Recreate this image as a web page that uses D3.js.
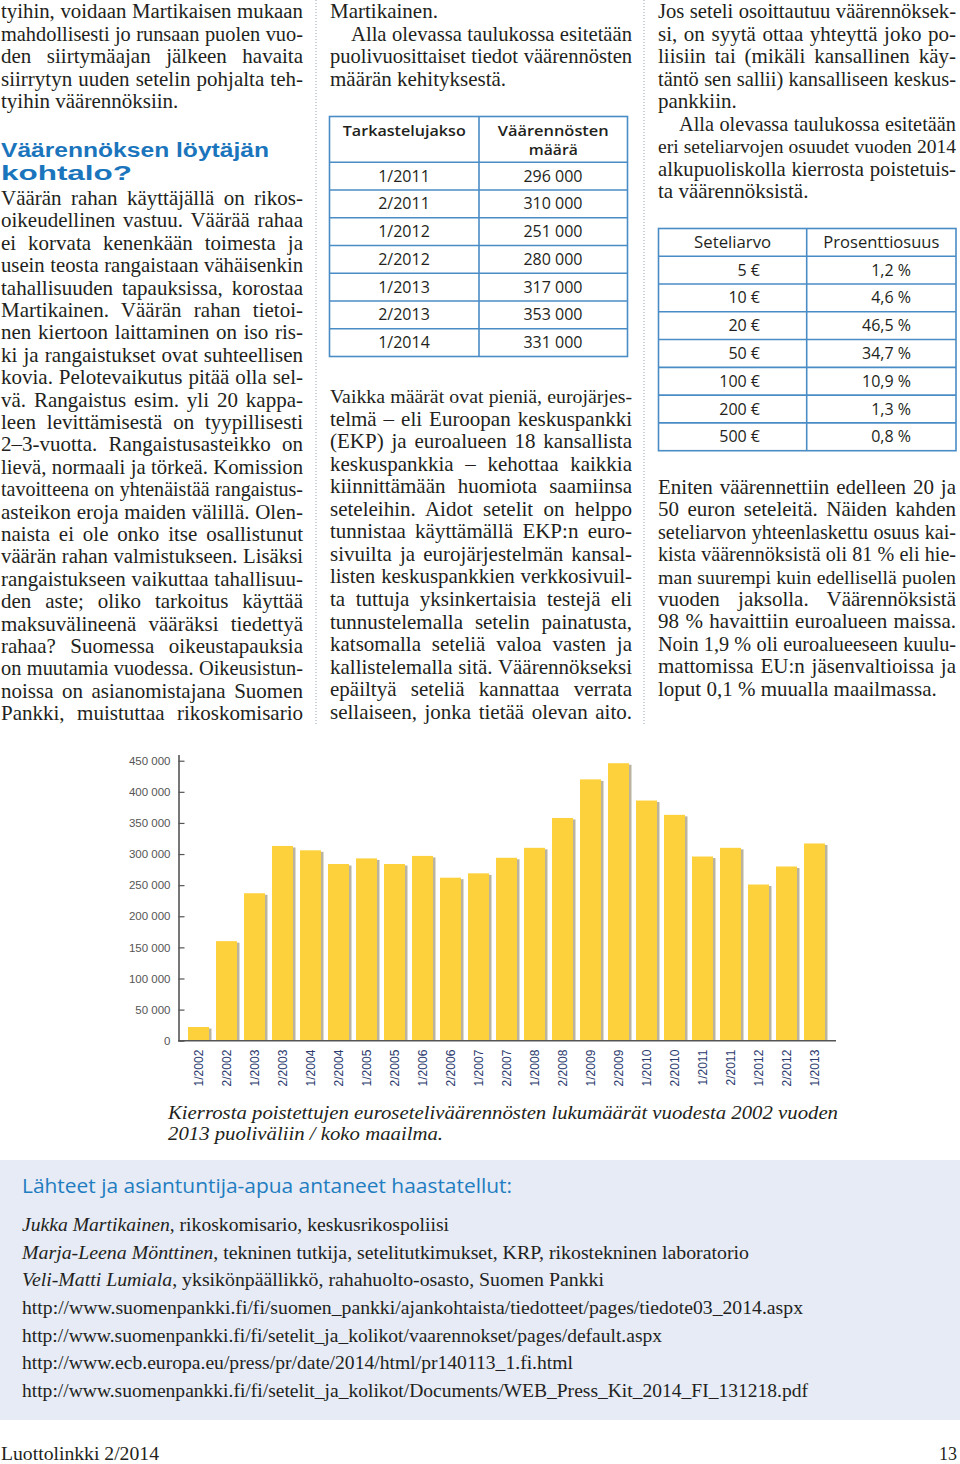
<!DOCTYPE html>
<html><head><meta charset="utf-8">
<script src="https://cdn.jsdelivr.net/npm/d3@7"></script>
<style>
html,body{margin:0;padding:0;background:#fff;}
svg{display:block;}
</style></head><body>
<svg id="page" width="960" height="1464"></svg>
<script>
// ---------- DATA ----------
const periods = ["1/2002","2/2002","1/2003","2/2003","1/2004","2/2004","1/2005","2/2005","1/2006","2/2006","1/2007","2/2007","1/2008","2/2008","1/2009","2/2009","1/2010","2/2010","1/2011","2/2011","1/2012","2/2012","1/2013"];
const counts = [22000,160000,237000,313000,306000,284000,293000,284000,297000,262000,269000,294000,310000,358000,420000,446000,386000,363000,296000,310000,251000,280000,317000];
const yTicks = [0,50000,100000,150000,200000,250000,300000,350000,400000,450000];

const tablePeriods = ["1/2011","2/2011","1/2012","2/2012","1/2013","2/2013","1/2014"];
const tableCounts = ["296 000","310 000","251 000","280 000","317 000","353 000","331 000"];
const denominations = ["5 €","10 €","20 €","50 €","100 €","200 €","500 €"];
const shares = ["1,2 %","4,6 %","46,5 %","34,7 %","10,9 %","1,3 %","0,8 %"];

const captionLines = ["Kierrosta poistettujen euroseteliväärennösten lukumäärät vuodesta 2002 vuoden","2013 puoliväliin / koko maailma."];

// ---------- HELPERS ----------
const svg = d3.select("#page");
const serif = "'Liberation Serif','Times New Roman',serif";
const sans = "'Open Sans','Noto Sans',sans-serif";
const lsans = "'Liberation Sans',Arial,sans-serif";
const ink = "#231f20";
const blue = "#1b75bc";
const BODY = 21;

function line(parent, x, y, str, o = {}) {
  const size = o.size || BODY;
  const t = parent.append("text").attr("x", x).attr("y", y).text(str)
    .attr("font-family", o.family || serif)
    .attr("font-size", size)
    .attr("fill", o.fill || ink);
  if (o.style) t.attr("font-style", o.style);
  if (o.weight) t.attr("font-weight", o.weight);
  if (o.anchor) t.attr("text-anchor", o.anchor);
  if (o.justify) {
    let nat = t.node().getComputedTextLength();
    if (nat > o.justify) {
      t.attr("font-size", size * o.justify / nat * 0.997);
      nat = t.node().getComputedTextLength();
    }
    const spaces = (str.match(/ /g) || []).length;
    if (spaces > 0) {
      t.style("word-spacing", ((o.justify - nat) / spaces) + "px");
      const after = t.node().getComputedTextLength();
      if (Math.abs(after - o.justify) > 2) {
        t.style("word-spacing", null).attr("textLength", o.justify).attr("lengthAdjust", "spacing");
      }
    }
  }
  if (o.fit) t.attr("textLength", o.fit).attr("lengthAdjust", "spacingAndGlyphs");
  return t;
}

function paragraph(col, y0, pitch, lines) {
  const g = svg.append("g");
  lines.forEach((l, i) => {
    const indent = l[2] || 0;
    line(g, col.x + indent, y0 + i * pitch, l[0], l[1] ? { justify: col.w - indent } : {});
  });
}

const colL = { x: 1, w: 302 }, colM = { x: 330, w: 302 }, colR = { x: 658, w: 298 };

// ---------- COLUMN SEPARATORS ----------
[316, 644].forEach(xx => {
  svg.append("line").attr("x1", xx).attr("x2", xx).attr("y1", 0).attr("y2", 726)
    .attr("stroke", "#9aa3b5").attr("stroke-width", 1).attr("stroke-dasharray", "1,2");
});

// ---------- LEFT COLUMN ----------
paragraph(colL, 18, 22.5, [
  ["tyihin, voidaan Martikaisen mukaan", true],
  ["mahdollisesti jo runsaan puolen vuo-", true],
  ["den siirtymäajan jälkeen havaita", true],
  ["siirrytyn uuden setelin pohjalta teh-", true],
  ["tyihin väärennöksiin.", false]
]);
line(svg, 1, 157, "Väärennöksen löytäjän", { family: lsans, weight: 700, size: 20, fill: blue, fit: 268 });
line(svg, 1, 180, "kohtalo?", { family: lsans, weight: 700, size: 20, fill: blue, fit: 131 });
paragraph(colL, 205, 22.4, [
  ["Väärän rahan käyttäjällä on rikos-", true],
  ["oikeudellinen vastuu. Väärää rahaa", true],
  ["ei korvata kenenkään toimesta ja", true],
  ["usein teosta rangaistaan vähäisenkin", true],
  ["tahallisuuden tapauksissa, korostaa", true],
  ["Martikainen. Väärän rahan tietoi-", true],
  ["nen kiertoon laittaminen on iso ris-", true],
  ["ki ja rangaistukset ovat suhteellisen", true],
  ["kovia. Pelotevaikutus pitää olla sel-", true],
  ["vä. Rangaistus esim. yli 20 kappa-", true],
  ["leen levittämisestä on tyypillisesti", true],
  ["2–3-vuotta. Rangaistusasteikko on", true],
  ["lievä, normaali ja törkeä. Komission", true],
  ["tavoitteena on yhtenäistää rangaistus-", true],
  ["asteikon eroja maiden välillä. Olen-", true],
  ["naista ei ole onko itse osallistunut", true],
  ["väärän rahan valmistukseen. Lisäksi", true],
  ["rangaistukseen vaikuttaa tahallisuu-", true],
  ["den aste; oliko tarkoitus käyttää", true],
  ["maksuvälineenä vääräksi tiedettyä", true],
  ["rahaa? Suomessa oikeustapauksia", true],
  ["on muutamia vuodessa. Oikeusistun-", true],
  ["noissa on asianomistajana Suomen", true],
  ["Pankki, muistuttaa rikoskomisario", true]
]);

// ---------- MIDDLE COLUMN ----------
paragraph(colM, 18, 22.5, [
  ["Martikainen.", false],
  ["Alla olevassa taulukossa esitetään", true, 21],
  ["puolivuosittaiset tiedot väärennösten", true],
  ["määrän kehityksestä.", false]
]);
paragraph(colM, 403, 22.55, [
  ["Vaikka määrät ovat pieniä, eurojärjes-", true],
  ["telmä – eli Euroopan keskuspankki", true],
  ["(EKP) ja euroalueen 18 kansallista", true],
  ["keskuspankkia – kehottaa kaikkia", true],
  ["kiinnittämään huomiota saamiinsa", true],
  ["seteleihin. Aidot setelit on helppo", true],
  ["tunnistaa käyttämällä EKP:n euro-", true],
  ["sivuilta ja eurojärjestelmän kansal-", true],
  ["listen keskuspankkien verkkosivuil-", true],
  ["ta tuttuja yksinkertaisia testejä eli", true],
  ["tunnustelemalla setelin painatusta,", true],
  ["katsomalla seteliä valoa vasten ja", true],
  ["kallistelemalla sitä. Väärennökseksi", true],
  ["epäiltyä seteliä kannattaa verrata", true],
  ["sellaiseen, jonka tietää olevan aito.", true]
]);

// ---------- RIGHT COLUMN ----------
paragraph(colR, 18, 22.5, [
  ["Jos seteli osoittautuu väärennöksek-", true],
  ["si, on syytä ottaa yhteyttä joko po-", true],
  ["liisiin tai (mikäli kansallinen käy-", true],
  ["täntö sen sallii) kansalliseen keskus-", true],
  ["pankkiin.", false],
  ["Alla olevassa taulukossa esitetään", true, 21],
  ["eri seteliarvojen osuudet vuoden 2014", true],
  ["alkupuoliskolla kierrosta poistetuis-", true],
  ["ta väärennöksistä.", false]
]);
paragraph(colR, 494, 22.4, [
  ["Eniten väärennettiin edelleen 20 ja", true],
  ["50 euron seteleitä. Näiden kahden", true],
  ["seteliarvon yhteenlaskettu osuus kai-", true],
  ["kista väärennöksistä oli 81 % eli hie-", true],
  ["man suurempi kuin edellisellä puolen", true],
  ["vuoden jaksolla. Väärennöksistä", true],
  ["98 % havaittiin euroalueen maissa.", true],
  ["Noin 1,9 % oli euroalueeseen kuulu-", true],
  ["mattomissa EU:n jäsenvaltioissa ja", true],
  ["loput 0,1 % muualla maailmassa.", false]
]);

// ---------- TABLES ----------
const tableStroke = "#4a8cc6";
function drawTable(o) {
  const g = svg.append("g");
  const rows = d3.scaleBand().domain(o.col1).range([o.headBottom, o.bottom]);
  [[o.header1, (o.left + o.div) / 2], [o.header2, (o.div + o.right) / 2]].forEach(([hs, cx]) => {
    hs.forEach((h, i) => line(g, cx, o.headY + i * 19, h[0],
      { family: sans, size: o.headSize, weight: o.headWeight, anchor: "middle", fit: h[1] }));
  });
  o.col1.forEach((v, i) => {
    const cy = rows(v) + rows.bandwidth() / 2 + 5.5;
    line(g, o.c1x, cy, v, { family: sans, size: 16, anchor: o.c1anchor });
    line(g, o.c2x, cy, o.col2[i], { family: sans, size: 16, anchor: o.c2anchor });
  });
  g.append("rect").attr("x", o.left).attr("y", o.top).attr("width", o.right - o.left).attr("height", o.bottom - o.top)
    .attr("fill", "none").attr("stroke", tableStroke).attr("stroke-width", 1.6);
  g.append("line").attr("x1", o.div).attr("x2", o.div).attr("y1", o.top).attr("y2", o.bottom).attr("stroke", tableStroke).attr("stroke-width", 1.6);
  g.append("line").attr("x1", o.left).attr("x2", o.right).attr("y1", o.headBottom).attr("y2", o.headBottom).attr("stroke", tableStroke).attr("stroke-width", 1.6);
  o.col1.slice(1).forEach(v => {
    g.append("line").attr("x1", o.left).attr("x2", o.right).attr("y1", rows(v)).attr("y2", rows(v)).attr("stroke", tableStroke).attr("stroke-width", 1.6);
  });
}
drawTable({
  left: 329.5, right: 627.5, div: 479, top: 116.5, headBottom: 162.3, bottom: 356.5,
  header1: [["Tarkastelujakso", 123]], header2: [["Väärennösten", 111], ["määrä", 49]],
  headY: 136, headWeight: 600, headSize: 13.8,
  col1: tablePeriods, col2: tableCounts, c1x: 404, c2x: 553, c1anchor: "middle", c2anchor: "middle"
});
drawTable({
  left: 658.5, right: 956, div: 806.7, top: 228.5, headBottom: 256.2, bottom: 450.7,
  header1: [["Seteliarvo", 77]], header2: [["Prosenttiosuus", 116]],
  headY: 248, headWeight: 400, headSize: 16,
  col1: denominations, col2: shares, c1x: 760, c2x: 911, c1anchor: "end", c2anchor: "end"
});

// ---------- BAR CHART ----------
const locale = d3.formatLocale({ decimal: ",", thousands: " ", grouping: [3], currency: ["", " €"] });
const fmt = locale.format(",d");
const x = d3.scaleBand().domain(periods).range([184.5, 828.5]).paddingInner(0.25).paddingOuter(0.125);
const y = d3.scaleLinear().domain([0, 460000]).range([1040.7, 754.5]);
const chart = svg.append("g");

chart.selectAll("rect.shadow").data(periods).join("rect").attr("class", "shadow")
  .attr("x", d => x(d) + 2.5).attr("y", (d, i) => y(counts[i]) + 1.5)
  .attr("width", x.bandwidth()).attr("height", (d, i) => y(0) - y(counts[i]) - 1.5)
  .attr("fill", "#b9b3a0");
chart.selectAll("rect.bar").data(periods).join("rect").attr("class", "bar")
  .attr("x", d => x(d)).attr("y", (d, i) => y(counts[i]))
  .attr("width", x.bandwidth()).attr("height", (d, i) => y(0) - y(counts[i]))
  .attr("fill", "#fcd13b");

const yAxis = chart.append("g").attr("transform", "translate(178.5,0)")
  .call(d3.axisLeft(y).tickValues(yTicks).tickFormat(fmt).tickSize(-6).tickSizeOuter(0).tickPadding(8));
yAxis.select(".domain").attr("stroke", "#555").attr("stroke-width", 1.6);
yAxis.selectAll(".tick line").attr("stroke", "#555").attr("stroke-width", 1.2);
yAxis.selectAll(".tick text").attr("font-family", lsans).attr("font-size", 11.5).attr("fill", "#555");

chart.append("line").attr("x1", 178).attr("x2", 836).attr("y1", y(0)).attr("y2", y(0))
  .attr("stroke", "#555").attr("stroke-width", 1.6);

const xAxis = chart.append("g").attr("transform", `translate(0,${y(0)})`)
  .call(d3.axisBottom(x).tickSize(0).tickPadding(0));
xAxis.select(".domain").remove();
xAxis.selectAll(".tick text")
  .attr("transform", "translate(0,9) rotate(-90)")
  .attr("text-anchor", "end").attr("x", 0).attr("y", 0).attr("dy", "0.35em")
  .attr("font-family", lsans).attr("font-size", 12).attr("fill", "#2b3a6e");

// caption
line(svg, 168, 1119, captionLines[0], { style: "italic", size: 19, fit: 670 });
line(svg, 168, 1140, captionLines[1], { style: "italic", size: 19, fit: 275 });

// ---------- SOURCES BOX ----------
svg.append("rect").attr("x", 0).attr("y", 1160).attr("width", 960).attr("height", 260).attr("fill", "#e6ebf6");
line(svg, 22, 1193, "Lähteet ja asiantuntija-apua antaneet haastatellut:", { family: sans, size: 20, fill: "#1f7dc0", fit: 490 });
const people = [
  ["Jukka Martikainen", ", rikoskomisario, keskusrikospoliisi", 427],
  ["Marja-Leena Mönttinen", ", tekninen tutkija, setelitutkimukset, KRP, rikostekninen laboratorio", 727],
  ["Veli-Matti Lumiala", ", yksikönpäällikkö, rahahuolto-osasto, Suomen Pankki", 582]
];
people.forEach((p, i) => {
  const t = svg.append("text").attr("x", 22).attr("y", 1231 + i * 27.7)
    .attr("font-family", serif).attr("font-size", 18).attr("fill", ink)
    .attr("textLength", p[2]).attr("lengthAdjust", "spacingAndGlyphs");
  t.append("tspan").attr("font-style", "italic").text(p[0]);
  t.append("tspan").text(p[1]);
});
const urls = [
  ["http://www.suomenpankki.fi/fi/suomen_pankki/ajankohtaista/tiedotteet/pages/tiedote03_2014.aspx", 781],
  ["http://www.suomenpankki.fi/fi/setelit_ja_kolikot/vaarennokset/pages/default.aspx", 640],
  ["http://www.ecb.europa.eu/press/pr/date/2014/html/pr140113_1.fi.html", 551],
  ["http://www.suomenpankki.fi/fi/setelit_ja_kolikot/Documents/WEB_Press_Kit_2014_FI_131218.pdf", 786]
];
urls.forEach((u, i) => line(svg, 22, 1314 + i * 27.7, u[0], { size: 18, fit: u[1] }));

// ---------- FOOTER ----------
line(svg, 1, 1460, "Luottolinkki 2/2014", { size: 18, fit: 158 });
line(svg, 957, 1460, "13", { size: 18, anchor: "end" });
</script>
</body></html>
